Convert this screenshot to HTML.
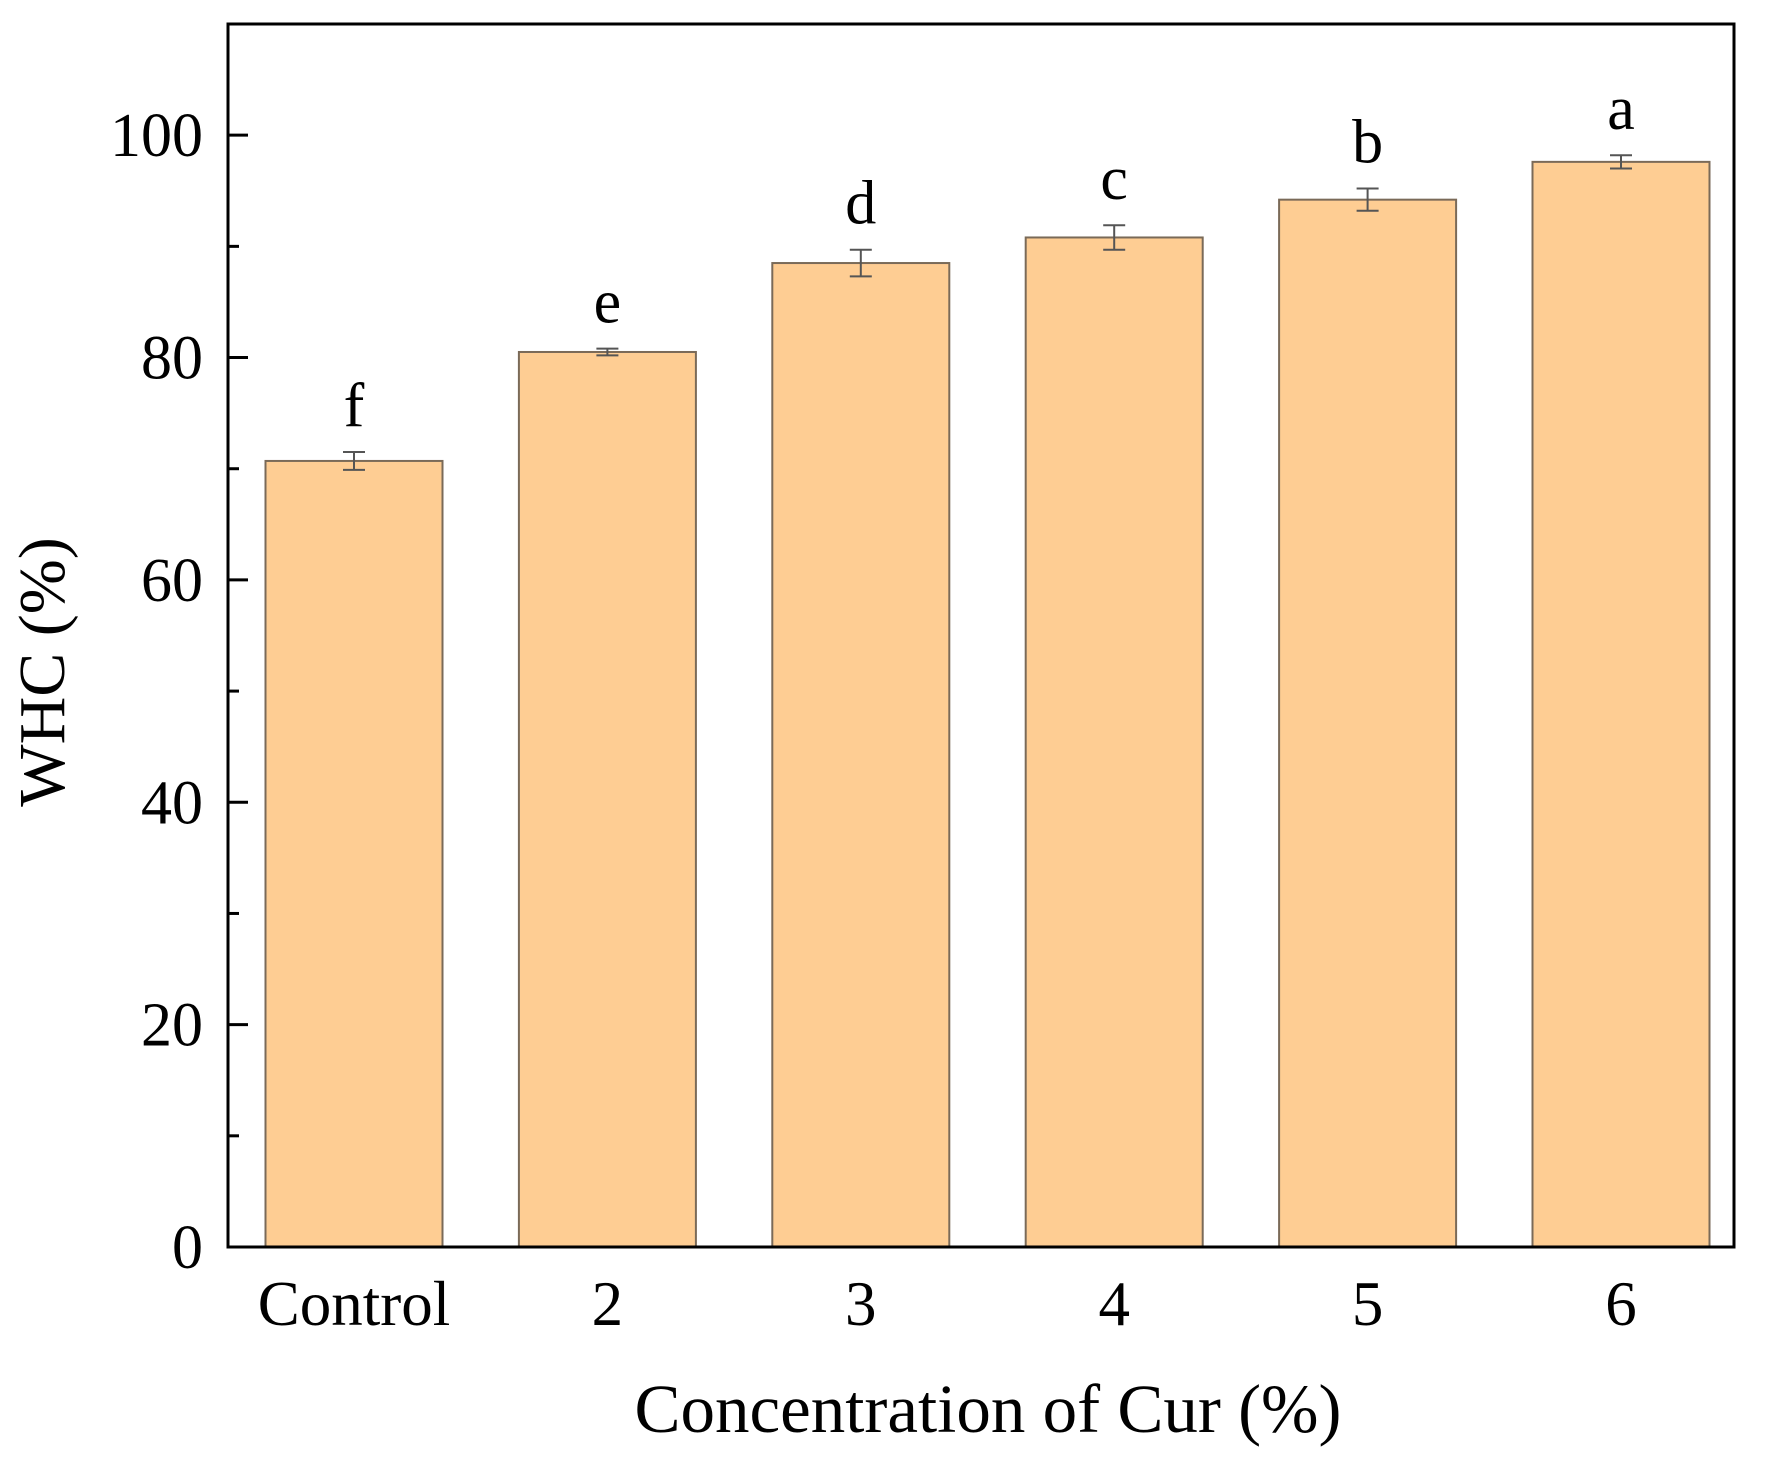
<!DOCTYPE html>
<html><head><meta charset="utf-8"><style>
html,body{margin:0;padding:0;background:#fff;}
svg{display:block;font-family:"Liberation Serif",serif;}
</style></head><body>
<svg id="chart" width="1765" height="1462" viewBox="0 0 1765 1462"></svg>
<script>
const categories = ["Control","2","3","4","5","6"];
const values = [70.7, 80.5, 88.5, 90.8, 94.2, 97.6];
const errors = [0.8, 0.3, 1.2, 1.1, 1.0, 0.6];
const letters = ["f","e","d","c","b","a"];
const yTicks = [0,20,40,60,80,100];
const yMinorTicks = [10,30,50,70,90];

const L=228,R=1734,T=24,B=1247,YMAX=110;
const svg=document.getElementById('chart');
const NS='http://www.w3.org/2000/svg';
function y(v){return B-(v/YMAX)*(B-T);}
const step=253.4;
function xc(i){return 354+step*i;}
const bw=177;
function mk(tag,attrs,parent){const e=document.createElementNS(NS,tag);for(const k in attrs)e.setAttribute(k,attrs[k]);(parent||svg).appendChild(e);return e;}

const bars=mk('g',{});


categories.forEach((c,i)=>{
  const r=mk('rect',{x:xc(i)-bw/2,y:y(values[i]),width:bw,height:B-y(values[i]),fill:'#fecd93',stroke:'#7a6a58','stroke-width':2},bars);
  
  
  const g=mk('g',{stroke:'#555','stroke-width':2},bars);
  
  
  const t=y(values[i]+errors[i]),b=y(values[i]-errors[i]);
  mk('line',{x1:xc(i),x2:xc(i),y1:t,y2:b},g);
  mk('line',{x1:xc(i)-11,x2:xc(i)+11,y1:t,y2:t},g);
  mk('line',{x1:xc(i)-11,x2:xc(i)+11,y1:b,y2:b},g);
  const lt=mk('text',{x:xc(i),y:t-26,'text-anchor':'middle','font-size':62,fill:'#000'});
  lt.textContent=letters[i];
  
  
  const xl=mk('text',{x:xc(i),y:1325,'text-anchor':'middle','font-size':63,fill:'#000'});
  xl.textContent=c;
  
  
});
yTicks.forEach(v=>{
  const l=mk('line',{x1:L,x2:L+20,y1:y(v),y2:y(v),stroke:'#000','stroke-width':3});
  
  
  const t=mk('text',{x:203,y:y(v)+21,'text-anchor':'end','font-size':62,fill:'#000'});
  t.textContent=v;
  
  
});
yMinorTicks.forEach(v=>{
  const l=mk('line',{x1:L,x2:L+11,y1:y(v),y2:y(v),stroke:'#000','stroke-width':3});
  
  
});
const f=mk('rect',{x:L,y:T,width:R-L,height:B-T,fill:'none',stroke:'#000','stroke-width':3});


const xt=mk('text',{x:988,y:1432,'text-anchor':'middle','font-size':69,fill:'#000'});
xt.textContent='Concentration of Cur (%)';


const yt=mk('text',{x:0,y:0,'text-anchor':'middle','font-size':66,fill:'#000',transform:'translate(64,672) rotate(-90)'});
yt.textContent='WHC (%)';


</script>
</body></html>
